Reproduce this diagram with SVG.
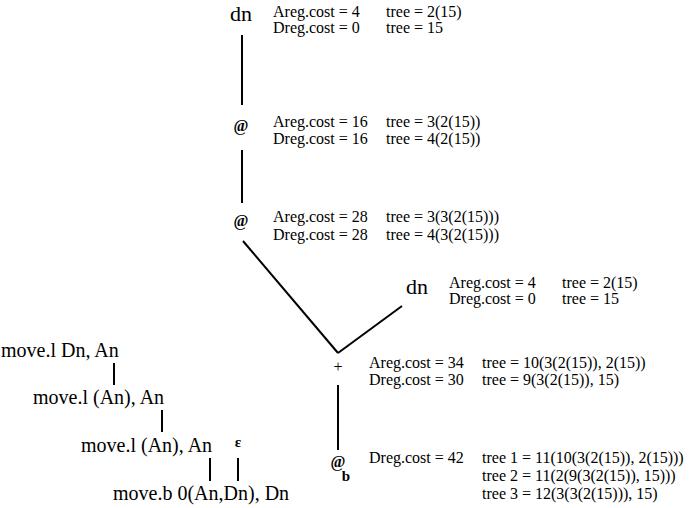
<svg xmlns="http://www.w3.org/2000/svg" width="691" height="508" viewBox="0 0 691 508">
<style>
text{font-family:"Liberation Serif","Times New Roman",serif;fill:#000}
.lbl{font-size:16px}
.node{font-size:20px}
.big{font-size:22px}
.at{font-size:16px;font-weight:bold}
.sub{font-size:15px;font-weight:bold}
.c{text-anchor:middle}
line{stroke:#000;stroke-width:2}
</style>
<rect width="691" height="508" fill="#fff"/>
<g id="connectors">
<line x1="242" y1="35" x2="242" y2="105"/>
<line x1="242" y1="150" x2="242" y2="203"/>
<line x1="243" y1="241" x2="338" y2="353"/>
<line x1="338" y1="353" x2="402" y2="306"/>
<line x1="338" y1="385" x2="338" y2="450"/>
<line x1="114" y1="363" x2="114" y2="385"/>
<line x1="162" y1="410" x2="162" y2="432"/>
<line x1="210" y1="458" x2="210" y2="481"/>
<line x1="238" y1="458" x2="238" y2="481"/>
</g>
<g id="n-dn-top">
<text class="big c" x="241" y="21">dn</text>
<text class="lbl" x="273" y="17">Areg.cost = 4</text>
<text class="lbl" x="386" y="17">tree = 2(15)</text>
<text class="lbl" x="273" y="33">Dreg.cost = 0</text>
<text class="lbl" x="386" y="33">tree = 15</text>
</g>
<g id="n-at1">
<text class="at c" x="241" y="131">@</text>
<text class="lbl" x="273" y="127">Areg.cost = 16</text>
<text class="lbl" x="386" y="127">tree = 3(2(15))</text>
<text class="lbl" x="273" y="144">Dreg.cost = 16</text>
<text class="lbl" x="386" y="144">tree = 4(2(15))</text>
</g>
<g id="n-at2">
<text class="at c" x="241" y="226">@</text>
<text class="lbl" x="273" y="222">Areg.cost = 28</text>
<text class="lbl" x="386" y="222">tree = 3(3(2(15)))</text>
<text class="lbl" x="273" y="240">Dreg.cost = 28</text>
<text class="lbl" x="386" y="240">tree = 4(3(2(15)))</text>
</g>
<g id="n-dn-right">
<text class="big c" x="417" y="294">dn</text>
<text class="lbl" x="449" y="288">Areg.cost = 4</text>
<text class="lbl" x="562" y="288">tree = 2(15)</text>
<text class="lbl" x="449" y="304">Dreg.cost = 0</text>
<text class="lbl" x="562" y="304">tree = 15</text>
</g>
<g id="n-plus">
<text class="lbl c" x="338" y="372">+</text>
<text class="lbl" x="369" y="368">Areg.cost = 34</text>
<text class="lbl" x="482" y="368">tree = 10(3(2(15)), 2(15))</text>
<text class="lbl" x="369" y="385">Dreg.cost = 30</text>
<text class="lbl" x="482" y="385">tree = 9(3(2(15)), 15)</text>
</g>
<g id="n-atb">
<text class="at c" x="338" y="467">@</text>
<text class="sub c" x="346" y="481">b</text>
<text class="lbl" x="369" y="463">Dreg.cost = 42</text>
<text class="lbl" x="482" y="463">tree 1 = 11(10(3(2(15)), 2(15)))</text>
<text class="lbl" x="482" y="481">tree 2 = 11(2(9(3(2(15)), 15)))</text>
<text class="lbl" x="482" y="499">tree 3 = 12(3(3(2(15))), 15)</text>
</g>
<g id="m1"><text class="node" x="1" y="357">move.l Dn, An</text></g>
<g id="m2"><text class="node" x="33" y="404">move.l (An), An</text></g>
<g id="m3"><text class="node" x="81" y="452">move.l (An), An</text></g>
<g id="eps"><text class="sub c" x="238" y="447">ε</text></g>
<g id="m4"><text class="node" x="113" y="500">move.b 0(An,Dn), Dn</text></g>
</svg>
